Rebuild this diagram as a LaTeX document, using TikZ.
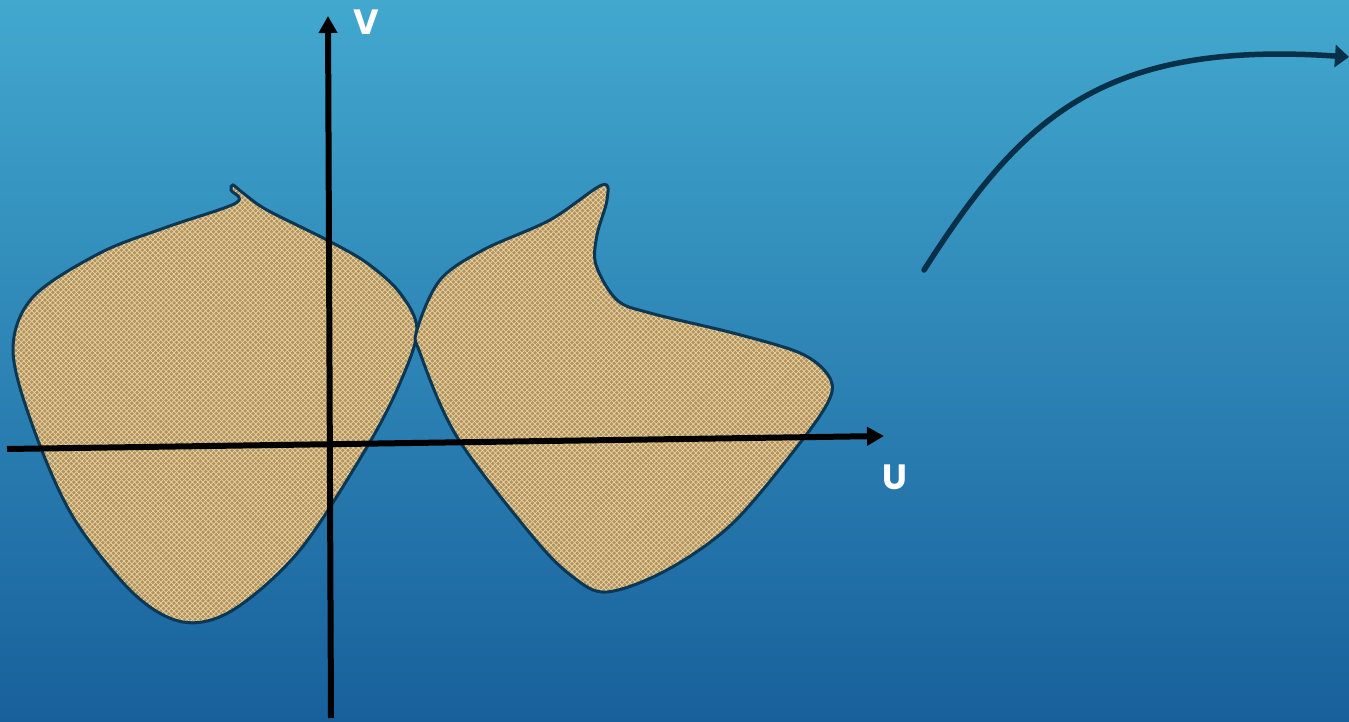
\documentclass[tikz,border=0pt]{standalone}
\usepackage{fontspec}
\setmainfont{Poppins}
\usetikzlibrary{arrows.meta,patterns}
\definecolor{skytop}{RGB}{66,168,206}
\definecolor{skybottom}{RGB}{24,96,156}
\definecolor{rim}{RGB}{10,56,84}
\definecolor{burlap}{RGB}{178,146,96}
\definecolor{weave}{RGB}{232,212,160}
\definecolor{curvecol}{RGB}{8,48,72}
\tikzset{
  axis/.style={line width=0.12cm,-{Triangle[length=0.34cm,width=0.36cm]}},
  region/.style={draw=rim,line width=0.06cm,
    preaction={fill=burlap},preaction={pattern=crosshatch,pattern color=weave}},
  axislabel/.style={text=white,font=\fontsize{20}{24}\selectfont\bfseries}
}
\begin{document}
\begin{tikzpicture}[x=0.02cm,y=-0.02cm]
\useasboundingbox (0,0) rectangle (1349,722);
\shade[top color=skytop,bottom color=skybottom] (0,0) rectangle (1349,722);
\draw[region] plot[smooth cycle,tension=0.55] coordinates {
 (233,185) (243,193) (267,210) (327,240) (367,263) (400,293) (417,330)
 (400,383) (367,447) (300,550) (233,610) (183,622) (133,593) (73,517)
 (33,427) (13,350) (33,297) (100,253) (167,227) (236,203) (231,190)};
\draw[region] plot[smooth cycle,tension=0.55] coordinates {
 (602,185) (607,200) (597,235) (596,265) (617,300) (650,313) (733,333)
 (800,353) (828,375) (830,398) (800,443) (733,523) (667,570) (607,592)
 (573,577) (533,537) (457,437) (420,353) (417,330) (440,280) (483,250)
 (550,220)};
\coordinate (ulow) at (7,449); \coordinate (uhigh) at (884,436);
\coordinate (vlow) at (331,718); \coordinate (vhigh) at (328,16);
\draw[axis] (ulow) -- (uhigh);
\draw[axis] (vlow) -- (vhigh);
\node[axislabel] (vlab) at (366,22) {V};
\node[axislabel] (ulab) at (895,477) {U};
\coordinate (mapfrom) at (924,270); \coordinate (mapto) at (1349,57);
\draw[curvecol,line width=0.11cm,line cap=round,-{Triangle[length=0.28cm,width=0.44cm]}]
 (mapfrom) .. controls (1020,120) and (1100,40) .. (mapto);
\end{tikzpicture}
\end{document}
